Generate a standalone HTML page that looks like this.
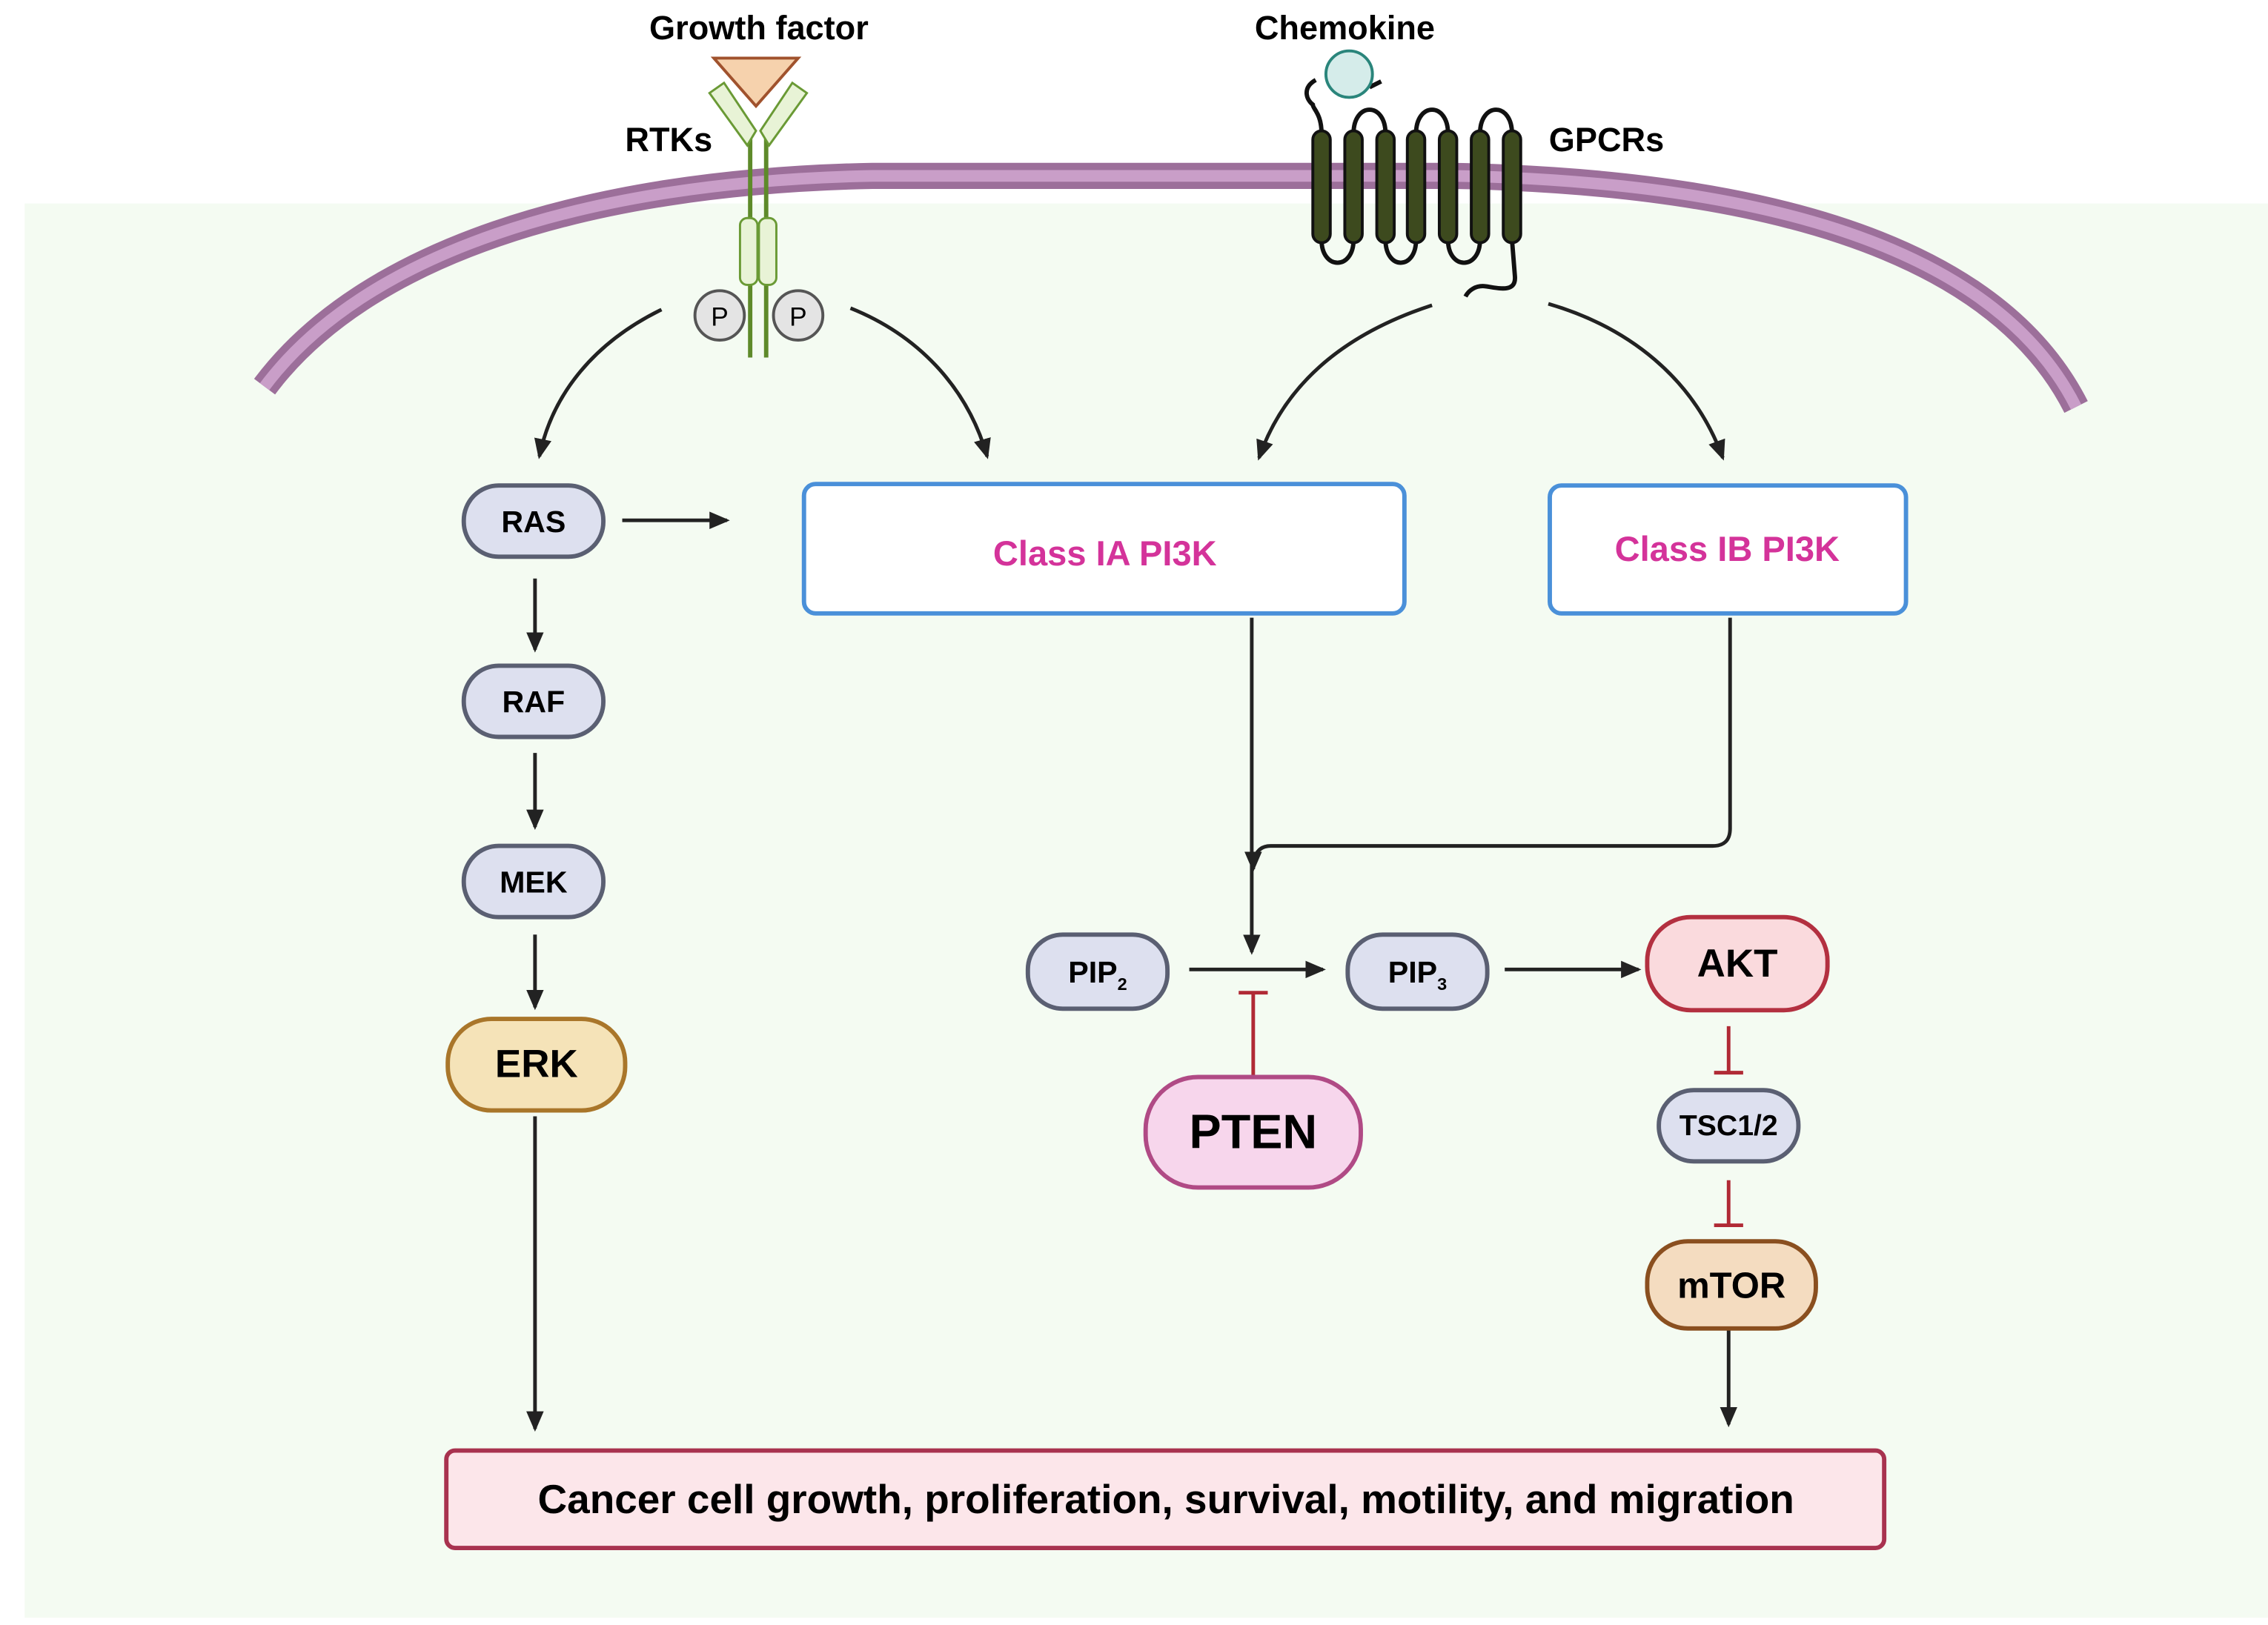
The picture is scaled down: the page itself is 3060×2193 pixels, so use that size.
<!DOCTYPE html>
<html><head><meta charset="utf-8"><style>
html,body{margin:0;padding:0;background:#fff}
svg{display:block}
text{font-family:"Liberation Sans",sans-serif;font-weight:bold}
</style></head><body>
<svg width="3060" height="2193" viewBox="0 0 1560 1118" xmlns="http://www.w3.org/2000/svg">
<defs>
<marker id="ah" markerWidth="14" markerHeight="12" refX="12" refY="6" orient="auto" markerUnits="userSpaceOnUse"><path d="M0,0 L14,6 L0,12 z" fill="#222"/></marker>
</defs>
<rect width="1560" height="1118" fill="#fff"/>
<rect x="17" y="140" width="1543" height="973" fill="#f4fbf2"/>
<!-- membrane -->
<path d="M182,266 C 250,175 400,125 600,121 L 1000,121 C 1200,125 1370,165 1428,280" fill="none" stroke="#9c6f9a" stroke-width="18"/>
<path d="M182,266 C 250,175 400,125 600,121 L 1000,121 C 1200,125 1370,165 1428,280" fill="none" stroke="#c99ec8" stroke-width="8"/>
<!-- RTK -->
<line x1="516" y1="95" x2="516" y2="246" stroke="#5e8a2a" stroke-width="3"/>
<line x1="527" y1="95" x2="527" y2="246" stroke="#5e8a2a" stroke-width="3"/>
<polygon points="488,64 498,57 520,90 514,100" fill="#e8f3d6" stroke="#6a9a35" stroke-width="1.5"/>
<polygon points="555,64 545,57 523,90 529,100" fill="#e8f3d6" stroke="#6a9a35" stroke-width="1.5"/>
<polygon points="491,40 549,40 520,73" fill="#f6d2ad" stroke="#a0522d" stroke-width="2"/>
<rect x="509" y="150" width="12" height="46" rx="5" fill="#e8f3d6" stroke="#6a9a35" stroke-width="1.5"/>
<rect x="522" y="150" width="12" height="46" rx="5" fill="#e8f3d6" stroke="#6a9a35" stroke-width="1.5"/>
<circle cx="495" cy="217" r="17" fill="#e4e4e4" stroke="#555" stroke-width="2"/>
<circle cx="549" cy="217" r="17" fill="#e4e4e4" stroke="#555" stroke-width="2"/>
<text x="495" y="224" font-size="18" text-anchor="middle" style="font-weight:normal">P</text>
<text x="549" y="224" font-size="18" text-anchor="middle" style="font-weight:normal">P</text>
<text x="522" y="27" font-size="23" text-anchor="middle">Growth factor</text>
<text x="460" y="104" font-size="23" text-anchor="middle">RTKs</text>
<text x="925" y="27" font-size="23" text-anchor="middle">Chemokine</text>
<text x="1105" y="104" font-size="23" text-anchor="middle">GPCRs</text>
<!-- GPCR -->
<g fill="none" stroke="#111" stroke-width="3">
<path d="M909,92 C909,78 903,75 903,72 C898,68 896,60 905,55"/>
<path d="M931,92 C931,70 953,70 953,92"/>
<path d="M974,92 C974,70 996,70 996,92"/>
<path d="M1018,92 C1018,70 1040,70 1040,92"/>
<path d="M909,165 C909,186 931,186 931,165"/>
<path d="M953,165 C953,186 974,186 974,165"/>
<path d="M996,165 C996,186 1018,186 1018,165"/>
<path d="M1040,165 L1042,190 C1043,202 1030,198 1022,197 C1015,196 1010,200 1008,204"/>
<path d="M942,60 L950,56"/>
</g>
<circle cx="928" cy="51" r="16" fill="#d5ecea" stroke="#2a857b" stroke-width="2"/>
<g fill="#3d4a1e" stroke="#111" stroke-width="2">
<rect x="903" y="90" width="12" height="77" rx="6"/>
<rect x="925" y="90" width="12" height="77" rx="6"/>
<rect x="947" y="90" width="12" height="77" rx="6"/>
<rect x="968" y="90" width="12" height="77" rx="6"/>
<rect x="990" y="90" width="12" height="77" rx="6"/>
<rect x="1012" y="90" width="12" height="77" rx="6"/>
<rect x="1034" y="90" width="12" height="77" rx="6"/>
</g>
<!-- arrows -->
<g fill="none" stroke="#222" stroke-width="2.5" marker-end="url(#ah)">
<path d="M455,213 C410,235 380,270 371,314"/>
<path d="M585,212 C630,230 665,265 679,314"/>
<path d="M985,210 C930,228 885,260 866,315"/>
<path d="M1065,209 C1120,225 1165,260 1185,315"/>
<line x1="428" y1="358" x2="500" y2="358"/>
<line x1="368" y1="398" x2="368" y2="447"/>
<line x1="368" y1="518" x2="368" y2="569"/>
<line x1="368" y1="643" x2="368" y2="693"/>
<line x1="368" y1="768" x2="368" y2="983"/>
<line x1="861" y1="425" x2="861" y2="655"/>
<path d="M1190,425 L1190,570 Q1190,582 1178,582 L874,582 Q862,582 862,598"/>
<line x1="818" y1="667" x2="910" y2="667"/>
<line x1="1035" y1="667" x2="1127" y2="667"/>
<line x1="1189" y1="915" x2="1189" y2="980"/>
</g>
<!-- inhibitions -->
<g stroke="#b02a35" stroke-width="2.5">
<line x1="862" y1="683" x2="862" y2="742"/><line x1="852" y1="683" x2="872" y2="683"/>
<line x1="1189" y1="706" x2="1189" y2="738"/><line x1="1179" y1="738" x2="1199" y2="738"/>
<line x1="1189" y1="812" x2="1189" y2="843"/><line x1="1179" y1="843" x2="1199" y2="843"/>
</g>
<!-- nodes -->
<g stroke-width="3">
<rect x="319" y="334" width="96" height="49" rx="24" fill="#dde0ef" stroke="#5a5f72"/>
<rect x="319" y="458" width="96" height="49" rx="24" fill="#dde0ef" stroke="#5a5f72"/>
<rect x="319" y="582" width="96" height="49" rx="24" fill="#dde0ef" stroke="#5a5f72"/>
<rect x="308" y="701" width="122" height="63" rx="30" fill="#f5e3b8" stroke="#a9762a"/>
<rect x="553" y="333" width="413" height="89" rx="8" fill="#fff" stroke="#4a90d9"/>
<rect x="1066" y="334" width="245" height="88" rx="8" fill="#fff" stroke="#4a90d9"/>
<rect x="707" y="643" width="96" height="51" rx="24" fill="#dde0ef" stroke="#5a5f72"/>
<rect x="927" y="643" width="96" height="51" rx="24" fill="#dde0ef" stroke="#5a5f72"/>
<rect x="1133" y="631" width="124" height="64" rx="30" fill="#fadadd" stroke="#b33040"/>
<rect x="788" y="741" width="148" height="76" rx="36" fill="#f7d6ec" stroke="#b04a85"/>
<rect x="1141" y="750" width="96" height="49" rx="24" fill="#dde0ef" stroke="#5a5f72"/>
<rect x="1133" y="854" width="116" height="60" rx="28" fill="#f4dcc0" stroke="#8a4f1f"/>
<rect x="307" y="998" width="989" height="67" rx="6" fill="#fce6ea" stroke="#a8324f"/>
</g>
<g text-anchor="middle">
<text x="367" y="366" font-size="21">RAS</text>
<text x="367" y="490" font-size="21">RAF</text>
<text x="367" y="614" font-size="21">MEK</text>
<text x="369" y="741" font-size="27">ERK</text>
<text x="760" y="389" font-size="24" fill="#d4339a">Class IA PI3K</text>
<text x="1188" y="386" font-size="24" fill="#d4339a">Class IB PI3K</text>
<text x="755" y="676" font-size="21">PIP<tspan font-size="12" dy="5">2</tspan></text>
<text x="975" y="676" font-size="21">PIP<tspan font-size="12" dy="5">3</tspan></text>
<text x="1195" y="672" font-size="27">AKT</text>
<text x="862" y="790" font-size="33">PTEN</text>
<text x="1189" y="781" font-size="20">TSC1/2</text>
<text x="1191" y="893" font-size="25">mTOR</text>
<text x="802" y="1041" font-size="28">Cancer cell growth, proliferation, survival, motility, and migration</text>
</g>
</svg>
</body></html>
